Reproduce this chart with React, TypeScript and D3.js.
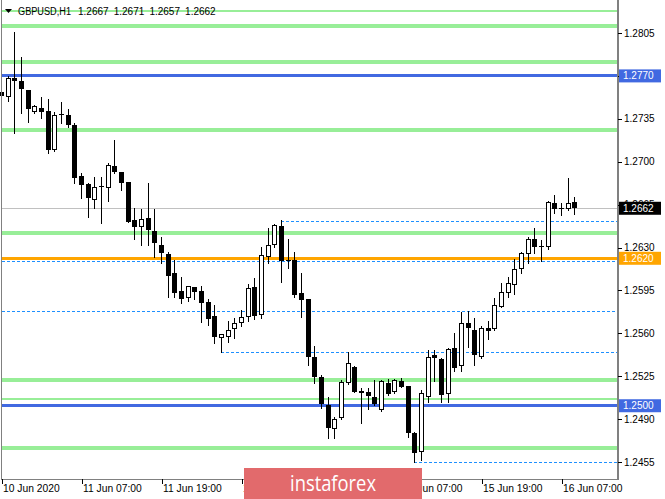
import React from "react";
import * as d3 from "d3";

const W = 665;
const H = 499;

const opens = [1.27569,1.2753,1.2768,1.27661,1.27585,1.27408,1.27436,1.27416,1.27095,1.27387,1.27381,1.27299,1.26883,1.26818,1.26687,1.26802,1.26783,1.26965,1.26913,1.26832,1.26524,1.26465,1.26538,1.26437,1.2632,1.26247,1.26089,1.25945,1.25885,1.2598,1.25945,1.25858,1.25741,1.25559,1.25572,1.25635,1.25681,1.25735,1.2598,1.25749,1.26225,1.2632,1.26475,1.26198,1.26198,1.25926,1.25877,1.25409,1.25243,1.25015,1.24819,1.24906,1.25192,1.25327,1.25129,1.25123,1.25083,1.24974,1.25192,1.25119,1.25211,1.2517,1.24784,1.24634,1.25083,1.25423,1.2539,1.25105,1.25478,1.25333,1.25681,1.25627,1.25404,1.25646,1.25635,1.25814,1.25926,1.25994,1.26122,1.26244,1.26369,1.26312,1.26306,1.26661,1.2662,1.26614,1.2667];
const highs = [1.27601,1.27699,1.28061,1.27857,1.27585,1.27463,1.2753,1.27509,1.27408,1.27489,1.27427,1.27318,1.26905,1.26824,1.26873,1.26878,1.26989,1.27177,1.26916,1.26837,1.2662,1.26614,1.26829,1.26614,1.26383,1.26266,1.26198,1.26057,1.25986,1.2598,1.25988,1.25877,1.25831,1.25592,1.257,1.25722,1.2579,1.26002,1.26049,1.26302,1.26457,1.26492,1.26524,1.26367,1.26261,1.26089,1.25877,1.25496,1.2526,1.25083,1.24919,1.25219,1.2545,1.25333,1.25151,1.25151,1.25219,1.25219,1.25225,1.25225,1.25238,1.25174,1.24795,1.25137,1.25464,1.25464,1.25398,1.25478,1.256,1.25776,1.25784,1.25722,1.25659,1.25703,1.25885,1.26008,1.26062,1.26204,1.26266,1.26388,1.26457,1.26361,1.26682,1.26728,1.26661,1.26865,1.2671];
const lows = [1.27454,1.27495,1.27232,1.274,1.27326,1.274,1.27359,1.27068,1.27087,1.27313,1.27286,1.26824,1.26701,1.26551,1.2662,1.26497,1.26682,1.26905,1.26769,1.26508,1.26367,1.2632,1.2632,1.26225,1.26171,1.25898,1.25898,1.2585,1.25866,1.25877,1.25695,1.25668,1.25518,1.2545,1.25531,1.25559,1.25659,1.257,1.25714,1.25722,1.26171,1.26302,1.26021,1.2613,1.25898,1.25735,1.25341,1.25192,1.2499,1.24746,1.24743,1.24901,1.25186,1.25121,1.2487,1.24982,1.25015,1.2497,1.25096,1.25113,1.25159,1.24751,1.24547,1.24564,1.25042,1.25213,1.25042,1.25042,1.25292,1.25292,1.25486,1.25341,1.25402,1.25551,1.25631,1.25812,1.25898,1.25921,1.26089,1.26171,1.26253,1.26192,1.26285,1.26579,1.26565,1.2661,1.2657];
const closes = [1.27536,1.2768,1.27661,1.27596,1.27427,1.27454,1.27408,1.27095,1.27381,1.27379,1.27299,1.26869,1.2681,1.26701,1.26791,1.26794,1.26973,1.26918,1.26824,1.2651,1.2647,1.26532,1.26443,1.26334,1.26253,1.2607,1.25931,1.25877,1.25986,1.25939,1.25845,1.25714,1.2557,1.25592,1.25627,1.25681,1.2573,1.25967,1.25741,1.26239,1.2632,1.26483,1.26192,1.26192,1.25912,1.25872,1.25409,1.25246,1.25023,1.24825,1.24898,1.25205,1.2536,1.25123,1.2511,1.25091,1.25023,1.25211,1.25105,1.25219,1.25164,1.24784,1.24621,1.2511,1.25409,1.25396,1.25096,1.25469,1.25319,1.25686,1.25641,1.25423,1.25641,1.25621,1.25831,1.25933,1.26013,1.26125,1.26253,1.26367,1.26302,1.26302,1.26669,1.26612,1.26614,1.26661,1.2662];

const xTickLabels = ["10 Jun 2020", "11 Jun 07:00", "11 Jun 19:00", "12 Jun 07:00", "12 Jun 19:00", "15 Jun 07:00", "15 Jun 19:00", "16 Jun 07:00"];
const xTickBars = [0, 12, 24, 36, 48, 60, 72, 84];
const yTicks = [1.2805, 1.277, 1.2735, 1.27, 1.2665, 1.263, 1.2595, 1.256, 1.2525, 1.249, 1.2455];

const greenThickLevels = [1.28107, 1.27813, 1.27255, 1.26418, 1.25219, 1.24664];
const greenThinLevels = [1.2823, 1.25066];
const blueLevels = [1.277, 1.25009];
const blueLabels = ["1.2770", "1.2500"];
const orangeLevel = 1.26212;
const orangeLabel = "1.2620";
const currentPrice = 1.2662;
const currentLabel = "1.2662";
const dottedLevels = [1.2652, 1.26188, 1.25782, 1.25446, 1.24548];
const dottedStartBar = [42, -1, -1, 33, 62];

const headerSymbol = "GBPUSD,H1";
const headerValues = ["1.2667", "1.2671", "1.2657", "1.2662"];

const FONT = "'Liberation Sans', Arial, sans-serif";

export default function App() {
  const plotL = 2;
  const plotR = 618;
  const plotB = 479;
  const y = d3.scaleLinear().domain([1.2455, 1.2805]).range([462, 33]);
  const x = d3.scaleLinear().domain([0, 86]).range([1, 574.33]);
  const fmt = d3.format(".4f");

  const candles = opens.map((o, i) => {
    const cx = Math.round(x(i));
    const c = closes[i];
    const bull = c > o;
    const yTop = Math.round(y(Math.max(o, c)));
    const yBot = Math.round(y(Math.min(o, c)));
    const hgt = Math.max(1, yBot - yTop);
    return (
      <g key={i}>
        <line x1={cx + 0.5} x2={cx + 0.5} y1={Math.round(y(highs[i]))} y2={Math.round(y(lows[i])) + 1} stroke="#000" strokeWidth={1} />
        {bull ? (
          <rect x={cx - 1.5} y={yTop + 0.5} width={4} height={Math.max(1, hgt - 1)} fill="#fff" stroke="#000" strokeWidth={1} />
        ) : (
          <rect x={cx - 2} y={yTop} width={5} height={hgt} fill="#000" />
        )}
      </g>
    );
  });

  const labelBox = (price: number, text: string, bg: string, key: string) => {
    const cy = y(price);
    return (
      <g key={key}>
        <rect x={619} y={cy - 6.5} width={42} height={13} fill={bg} />
        <text x={623} y={cy} dy="0.35em" fontSize={10} fill="#fff" fontFamily={FONT}>{text}</text>
      </g>
    );
  };

  return (
    <svg width={W} height={H} style={{ position: "fixed", left: 0, top: 0, background: "#fff" }}>
      <rect x={0} y={0} width={W} height={H} fill="#fff" />
      <g shapeRendering="crispEdges">
        {greenThinLevels.map((p, i) => (
          <line key={"gt" + i} x1={plotL} x2={plotR} y1={y(p)} y2={y(p)} stroke="#98ee98" strokeWidth={1.6} />
        ))}
        {greenThickLevels.map((p, i) => (
          <line key={"gk" + i} x1={plotL} x2={plotR} y1={y(p)} y2={y(p)} stroke="#98ee98" strokeWidth={4} />
        ))}
        <line x1={plotL} x2={plotR} y1={Math.round(y(currentPrice)) + 0.5} y2={Math.round(y(currentPrice)) + 0.5} stroke="#c0c0c0" strokeWidth={1} />
        {dottedLevels.map((p, i) => (
          <line key={"d" + i} x1={dottedStartBar[i] < 0 ? plotL : Math.round(x(dottedStartBar[i]))} x2={plotR} y1={Math.round(y(p)) + 0.5} y2={Math.round(y(p)) + 0.5} stroke="#1e90ff" strokeWidth={1} strokeDasharray="3,2" />
        ))}
        {blueLevels.map((p, i) => (
          <line key={"b" + i} x1={plotL} x2={plotR} y1={y(p)} y2={y(p)} stroke="#4169e1" strokeWidth={3} />
        ))}
        <line x1={plotL} x2={plotR} y1={y(orangeLevel)} y2={y(orangeLevel)} stroke="#ffa500" strokeWidth={3} />
        {candles}
      </g>

      {/* header */}
      <path d="M5,9 L12,9 L8.5,13 Z" fill="#000" />
      <text x={18} y={15} fontSize={10} fontFamily={FONT} fill="#000" textLength={53} lengthAdjust="spacingAndGlyphs">{headerSymbol}</text>
      {headerValues.map((v, i) => (
        <text key={"hv" + i} x={78 + i * 35.7} y={15} fontSize={10} fontFamily={FONT} fill="#000">{v}</text>
      ))}

      {/* borders */}
      <g shapeRendering="crispEdges">
        <line x1={1.5} x2={1.5} y1={0} y2={plotB} stroke="#808080" strokeWidth={1} />
        <line x1={plotR} x2={plotR} y1={0} y2={plotB + 1} stroke="#808080" strokeWidth={2} />
        <line x1={1} x2={plotR} y1={plotB + 0.5} y2={plotB + 0.5} stroke="#808080" strokeWidth={1} />
        {yTicks.map((t, i) => (
          <line key={"yt" + i} x1={plotR} x2={plotR + 4} y1={Math.round(y(t)) + 0.5} y2={Math.round(y(t)) + 0.5} stroke="#000" strokeWidth={1} />
        ))}
        {xTickBars.map((b, i) => (
          <line key={"xt" + i} x1={Math.round(x(b)) + 1.5} x2={Math.round(x(b)) + 1.5} y1={plotB} y2={plotB + 5} stroke="#000" strokeWidth={1} />
        ))}
      </g>

      {yTicks.map((t, i) => (
        <text key={"yl" + i} x={624} y={y(t)} dy="0.35em" fontSize={10} fontFamily={FONT} fill="#000">{fmt(t)}</text>
      ))}
      {xTickLabels.map((s, i) => (
        <text key={"xl" + i} x={Math.round(x(xTickBars[i])) + 2} y={492} fontSize={10.3} fontFamily={FONT} fill="#000">{s}</text>
      ))}

      {blueLevels.map((p, i) => labelBox(p, blueLabels[i], "#4169e1", "bl" + i))}
      {labelBox(orangeLevel, orangeLabel, "#ffa500", "ol")}
      {labelBox(currentPrice, currentLabel, "#000", "cl")}

      {/* watermark */}
      <rect x={244} y={468} width={178} height={31} fill="#e26a6c" />
      <text x={333} y={491} textAnchor="middle" fontSize={22} fontFamily="'Open Sans', sans-serif" fill="#fff" textLength={86} lengthAdjust="spacingAndGlyphs">instaforex</text>
    </svg>
  );
}
